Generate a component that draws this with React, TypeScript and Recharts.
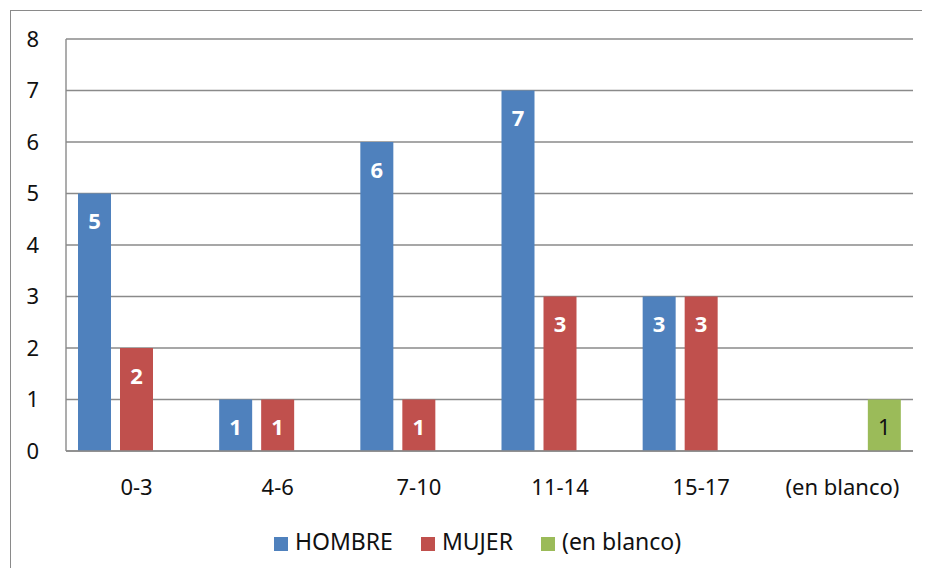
import { Bar, BarChart, CartesianGrid, LabelList, Legend, XAxis, YAxis } from "recharts";

const categories = ["0-3", "4-6", "7-10", "11-14", "15-17", "(en blanco)"];
const hombre = [5, 1, 6, 7, 3, null];
const mujer = [2, 1, 1, 3, 3, null];
const blanco = [null, null, null, null, null, 1];
const yTicks = [0, 1, 2, 3, 4, 5, 6, 7, 8];

const data = categories.map((c, i) => ({
  name: c,
  HOMBRE: hombre[i],
  MUJER: mujer[i],
  blanco: blanco[i],
}));

const FONT = "'Noto Sans', sans-serif";
const GRID = "#8a8a8a";

export default function App() {
  return (
    <div
      style={{
        position: "relative",
        width: 930,
        height: 576,
        margin: -8,
        overflow: "hidden",
        background: "#fff",
        fontFamily: FONT,
      }}
    >
      <div
        style={{
          position: "absolute",
          left: 10,
          top: 10,
          width: 960,
          height: 600,
          border: "1.5px solid #8a8a8a",
        }}
      />
      <BarChart
        width={930}
        height={576}
        data={data}
        margin={{ top: 39, right: 17, bottom: 33, left: 0 }}
        barSize={33}
        barGap={9}
        style={{ position: "absolute", left: 0, top: 0 }}
      >
        <CartesianGrid vertical={false} stroke={GRID} strokeWidth={1.4} />
        <XAxis
          dataKey="name"
          height={60}
          tickLine={false}
          axisLine={{ stroke: GRID, strokeWidth: 1.4 }}
          tick={{ fill: "#111", fontSize: 22, fontFamily: FONT }}
          tickMargin={22}
        />
        <YAxis
          width={66}
          domain={[0, 8]}
          ticks={yTicks}
          interval={0}
          tickLine={false}
          axisLine={{ stroke: GRID, strokeWidth: 1.4 }}
          tick={{ fill: "#111", fontSize: 22, fontFamily: FONT }}
          tickMargin={21}
        />
        <Legend
          verticalAlign="bottom"
          iconType="square"
          iconSize={14}
          wrapperStyle={{
            fontSize: 23,
            fontFamily: FONT,
            color: "#111",
            left: 274,
            top: 525,
            width: "auto",
          }}
          formatter={(v: string) => (
            <span style={{ color: "#111", marginLeft: 3, marginRight: 18 }}>
              {v === "blanco" ? "(en blanco)" : v}
            </span>
          )}
        />
        <Bar dataKey="HOMBRE" fill="#4F81BD" isAnimationActive={false}>
          <LabelList
            dataKey="HOMBRE"
            position="insideTop"
            offset={20}
            fill="#fff"
            fontSize={22}
            fontWeight="bold"
            fontFamily={FONT}
          />
        </Bar>
        <Bar dataKey="MUJER" fill="#C0504D" isAnimationActive={false}>
          <LabelList
            dataKey="MUJER"
            position="insideTop"
            offset={20}
            fill="#fff"
            fontSize={22}
            fontWeight="bold"
            fontFamily={FONT}
          />
        </Bar>
        <Bar dataKey="blanco" name="blanco" fill="#9BBB59" isAnimationActive={false}>
          <LabelList
            dataKey="blanco"
            position="insideTop"
            offset={20}
            fill="#111"
            fontSize={22}
            fontFamily={FONT}
          />
        </Bar>
      </BarChart>
    </div>
  );
}
